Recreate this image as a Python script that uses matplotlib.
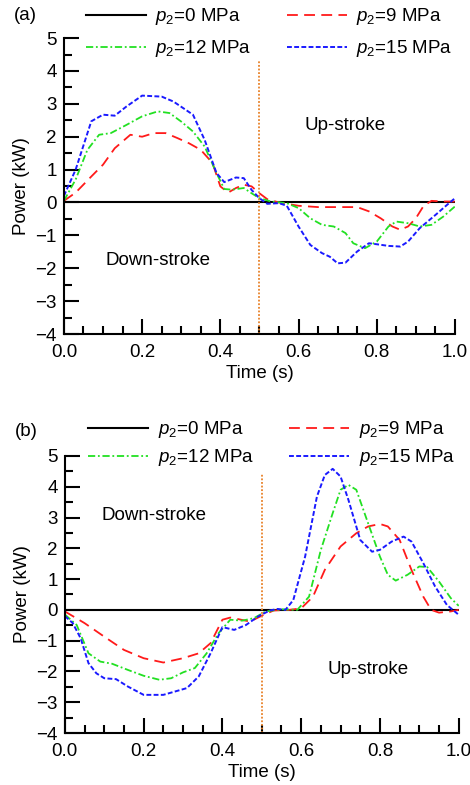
import matplotlib
matplotlib.use('Agg')
import matplotlib.pyplot as plt
from matplotlib.ticker import MultipleLocator, FormatStrFormatter

plt.rcParams['font.family'] = ['Liberation Sans', 'DejaVu Sans']
plt.rcParams['mathtext.fontset'] = 'custom'
plt.rcParams['mathtext.rm'] = 'Liberation Sans'
plt.rcParams['mathtext.it'] = 'Liberation Sans:italic'

# ---- panel (a) data ----
t_a15 = [0.0, 0.03, 0.07, 0.1, 0.13, 0.16, 0.2, 0.25, 0.28, 0.33, 0.36, 0.39, 0.41, 0.44, 0.46,
         0.48, 0.5, 0.52, 0.55, 0.57, 0.6, 0.63, 0.66, 0.68, 0.7, 0.72, 0.75, 0.78, 0.8, 0.83,
         0.86, 0.88, 0.91, 0.95, 0.98, 1.0]
p_a15 = [0.2, 1.0, 2.47, 2.67, 2.64, 2.92, 3.25, 3.22, 3.07, 2.67, 1.9, 0.9, 0.62, 0.76, 0.74,
         0.38, 0.13, -0.04, -0.02, -0.1, -0.73, -1.29, -1.54, -1.65, -1.85, -1.83, -1.49, -1.24,
         -1.27, -1.32, -1.34, -1.19, -0.78, -0.38, -0.07, 0.13]

t_a12 = [0.0, 0.03, 0.06, 0.09, 0.12, 0.16, 0.2, 0.24, 0.27, 0.3, 0.33, 0.36, 0.39, 0.41, 0.43,
         0.46, 0.48, 0.5, 0.53, 0.57, 0.6, 0.63, 0.66, 0.69, 0.72, 0.74, 0.77, 0.8, 0.83, 0.85,
         0.88, 0.91, 0.94, 0.97, 1.0]
p_a12 = [0.05, 0.7, 1.6, 2.06, 2.11, 2.36, 2.62, 2.77, 2.72, 2.46, 2.16, 1.7, 0.9, 0.41, 0.39,
         0.44, 0.28, 0.13, 0.03, -0.02, -0.17, -0.48, -0.68, -0.73, -0.93, -1.24, -1.39, -1.19,
         -0.73, -0.58, -0.63, -0.73, -0.68, -0.43, -0.12]

t_a9 = [0.0, 0.03, 0.07, 0.1, 0.13, 0.17, 0.2, 0.23, 0.26, 0.29, 0.32, 0.35, 0.38, 0.4, 0.42,
        0.44, 0.46, 0.48, 0.5, 0.52, 0.55, 0.6, 0.65, 0.7, 0.75, 0.78, 0.81, 0.84, 0.86, 0.88,
        0.9, 0.92, 0.94, 0.97, 1.0]
p_a9 = [0.05, 0.3, 0.79, 1.15, 1.65, 2.06, 2.0, 2.11, 2.11, 1.96, 1.8, 1.6, 1.2, 0.49, 0.3,
        0.44, 0.54, 0.49, 0.28, 0.1, 0.0, -0.1, -0.14, -0.14, -0.14, -0.27, -0.48, -0.73, -0.83,
        -0.73, -0.48, -0.1, 0.05, 0.03, 0.03]

# ---- panel (b) data ----
t_b15 = [0.0, 0.02, 0.04, 0.06, 0.08, 0.1, 0.13, 0.16, 0.2, 0.25, 0.28, 0.31, 0.34, 0.37, 0.4,
         0.43, 0.46, 0.49, 0.52, 0.54, 0.56, 0.58, 0.61, 0.64, 0.66, 0.68, 0.7, 0.72, 0.75, 0.78,
         0.8, 0.83, 0.86, 0.88, 0.91, 0.94, 0.97, 1.0]
p_b15 = [-0.2, -0.43, -0.92, -1.73, -2.06, -2.22, -2.25, -2.49, -2.76, -2.76, -2.65, -2.54,
         -2.16, -1.41, -0.56, -0.65, -0.49, -0.22, -0.02, 0.03, 0.0, 0.32, 1.73, 3.68, 4.38, 4.58,
         4.33, 3.57, 2.27, 1.89, 1.95, 2.22, 2.38, 2.22, 1.52, 0.76, 0.16, -0.16]

t_b12 = [0.0, 0.03, 0.06, 0.09, 0.12, 0.16, 0.2, 0.24, 0.27, 0.3, 0.33, 0.36, 0.39, 0.42, 0.45,
         0.48, 0.51, 0.55, 0.59, 0.62, 0.65, 0.68, 0.7, 0.72, 0.74, 0.77, 0.8, 0.82, 0.84, 0.87,
         0.9, 0.92, 0.95, 0.98, 1.0]
p_b12 = [-0.15, -0.49, -1.41, -1.68, -1.75, -1.95, -2.14, -2.27, -2.22, -2.03, -1.89, -1.41,
         -0.76, -0.32, -0.35, -0.27, -0.05, 0.02, 0.0, 0.43, 1.95, 3.14, 3.9, 4.06, 3.9, 2.81,
         1.73, 1.14, 0.95, 1.14, 1.41, 1.39, 0.92, 0.38, 0.13]

t_b9 = [0.0, 0.05, 0.1, 0.15, 0.2, 0.25, 0.3, 0.34, 0.37, 0.4, 0.42, 0.44, 0.47, 0.5, 0.53,
        0.57, 0.6, 0.63, 0.66, 0.7, 0.74, 0.77, 0.8, 0.82, 0.85, 0.88, 0.91, 0.93, 0.95, 0.98, 1.0]
p_b9 = [-0.05, -0.43, -0.87, -1.3, -1.57, -1.71, -1.57, -1.41, -1.08, -0.32, -0.25, -0.3,
        -0.38, -0.19, -0.02, 0.0, 0.05, 0.43, 1.3, 2.06, 2.49, 2.71, 2.79, 2.71, 2.27, 1.3, 0.43,
        0.0, -0.09, -0.05, 0.0]

labels = ['$\\mathit{p}_2$=0 MPa', '$\\mathit{p}_2$=9 MPa',
          '$\\mathit{p}_2$=12 MPa', '$\\mathit{p}_2$=15 MPa']

panels = [
    dict(rect=[0.136, 0.5745, 0.832, 0.377], tag='(a)', tag_y=0.98,
         series=[(t_a9, p_a9), (t_a12, p_a12), (t_a15, p_a15)],
         down=(0.24, -1.75), up=(0.72, 2.33), vtop=4.3, leg_y=1.018, lsp=0.6),
    dict(rect=[0.138, 0.0662, 0.838, 0.353], tag='(b)', tag_y=0.45,
         series=[(t_b9, p_b9), (t_b12, p_b12), (t_b15, p_b15)],
         down=(0.226, 3.05), up=(0.77, -1.95), vtop=4.45, leg_y=1.044, lsp=0.38),
]

fig = plt.figure(figsize=(4.7, 7.85), dpi=100)
for pn in panels:
    ax = fig.add_axes(pn['rect'])
    h0, = ax.plot([0, 1], [0, 0], color='black', lw=1.5, zorder=2)
    (t9, p9), (t12, p12), (t15, p15) = pn['series']
    h9, = ax.plot(t9, p9, color='#ff1a1a', lw=1.3, dashes=(6, 3.5))
    h12, = ax.plot(t12, p12, color='#22e022', lw=1.3, dashes=(4, 1.5, 1, 1.5))
    h15, = ax.plot(t15, p15, color='#1a1aff', lw=1.4, dashes=(2.5, 1.2))
    ax.plot([0.5, 0.5], [-4, pn['vtop']], color='#e8822a', lw=1.3, ls=(0, (1, 1)))

    ax.set_xlim(0, 1.0)
    ax.set_ylim(-4, 5)
    ax.xaxis.set_major_locator(MultipleLocator(0.2))
    ax.xaxis.set_minor_locator(MultipleLocator(0.05))
    ax.yaxis.set_major_locator(MultipleLocator(1))
    ax.yaxis.set_minor_locator(MultipleLocator(0.5))
    ax.xaxis.set_major_formatter(FormatStrFormatter('%.1f'))
    ax.spines['top'].set_visible(False)
    ax.spines['right'].set_visible(False)
    for s in ('left', 'bottom'):
        ax.spines[s].set_linewidth(1.5)
    ax.tick_params(which='major', direction='in', length=11, width=1.5,
                   labelsize=13.5, pad=5)
    ax.tick_params(axis='x', which='major', pad=7)
    ax.tick_params(which='minor', direction='in', length=5.5, width=1.5)
    ax.set_xlabel('Time (s)', fontsize=13.5, labelpad=3)
    ax.set_ylabel('Power (kW)', fontsize=13.5, labelpad=4)

    ax.text(pn['down'][0], pn['down'][1], 'Down-stroke', fontsize=13.5,
            ha='center', va='center')
    ax.text(pn['up'][0], pn['up'][1], 'Up-stroke', fontsize=13.5,
            ha='center', va='center')

    # column-first fill: row 1 -> 0 & 9 MPa, row 2 -> 12 & 15 MPa
    ax.legend([h0, h12, h9, h15], [labels[0], labels[2], labels[1], labels[3]],
              ncol=2, loc='center',
              bbox_to_anchor=(0.525, pn['leg_y']), frameon=False, fontsize=13.5,
              handlelength=3.2, handletextpad=0.5, columnspacing=1.9,
              labelspacing=pn['lsp'])
    fig.text(0.055, pn['tag_y'], pn['tag'], fontsize=13.5, ha='center', va='center')

fig.savefig('out.png', dpi=100)
